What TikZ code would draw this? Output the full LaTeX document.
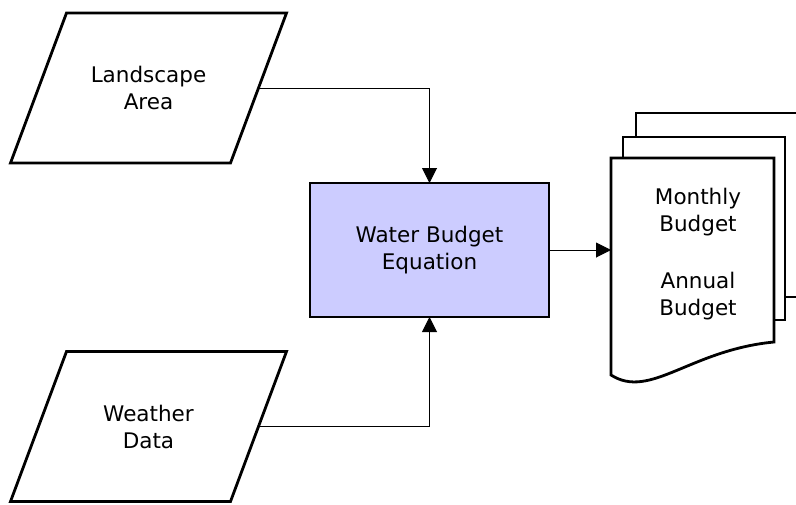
\documentclass[tikz,border=0pt]{standalone}
\usepackage{fontspec}
\setmainfont{DejaVu Sans}
\usetikzlibrary{arrows.meta}
\definecolor{boxfill}{RGB}{204,204,255}
\begin{document}
\begin{tikzpicture}[x=1pt,y=-1pt,
  every node/.style={font=\fontsize{21.5}{27}\selectfont, align=center, inner sep=0pt, outer sep=0pt},
  datain/.style={minimum width=220pt, minimum height=150pt},
  para/.style={line width=2.8pt, line join=miter},
  procbox/.style={draw, line width=2.8pt, fill=boxfill, minimum width=239pt, minimum height=134pt},
  conn/.style={line width=1pt, -{Triangle[length=15pt,width=15pt]}},
  docline/.style={line width=2.8pt, line join=miter, fill=white}]
\useasboundingbox (0,0) rectangle (796,504);
\node[datain] (la) at (148.5,88) {Landscape\\Area};
\draw[para] ([xshift=28pt]la.north west) -- ([xshift=28pt]la.north east)
  -- ([xshift=-28pt]la.south east) -- ([xshift=-28pt]la.south west) -- cycle;
\node[datain] (wd) at (148.5,426.5) {Weather\\Data};
\draw[para] ([xshift=28pt]wd.north west) -- ([xshift=28pt]wd.north east)
  -- ([xshift=-28pt]wd.south east) -- ([xshift=-28pt]wd.south west) -- cycle;
\node[procbox] (box) at (429.5,250) {Water Budget\\Equation};
% document stack
\draw[line width=2.8pt, fill=white] (636,137) -- (636,113) -- (798,113) -- (798,297) -- (785,297);
\draw[docline] (623,159) -- (623,137) -- (785,137) -- (785,320) -- (774,320);
\node[minimum width=163pt, minimum height=184pt] (doc) at (692.5,250) {};
\draw[docline] (doc.north west) -- (doc.north east) -- (774,342)
  .. controls (690,350) and (650,400) .. (611,375) -- cycle;
\node (doctext) at (698,254) {Monthly\\Budget\\[30pt]Annual\\Budget};
% connectors
\draw[conn] (la.east) -| (box.north);
\draw[conn] (wd.east) -| (box.south);
\draw[conn] (box.east) -- (doc.west);
\end{tikzpicture}
\end{document}
